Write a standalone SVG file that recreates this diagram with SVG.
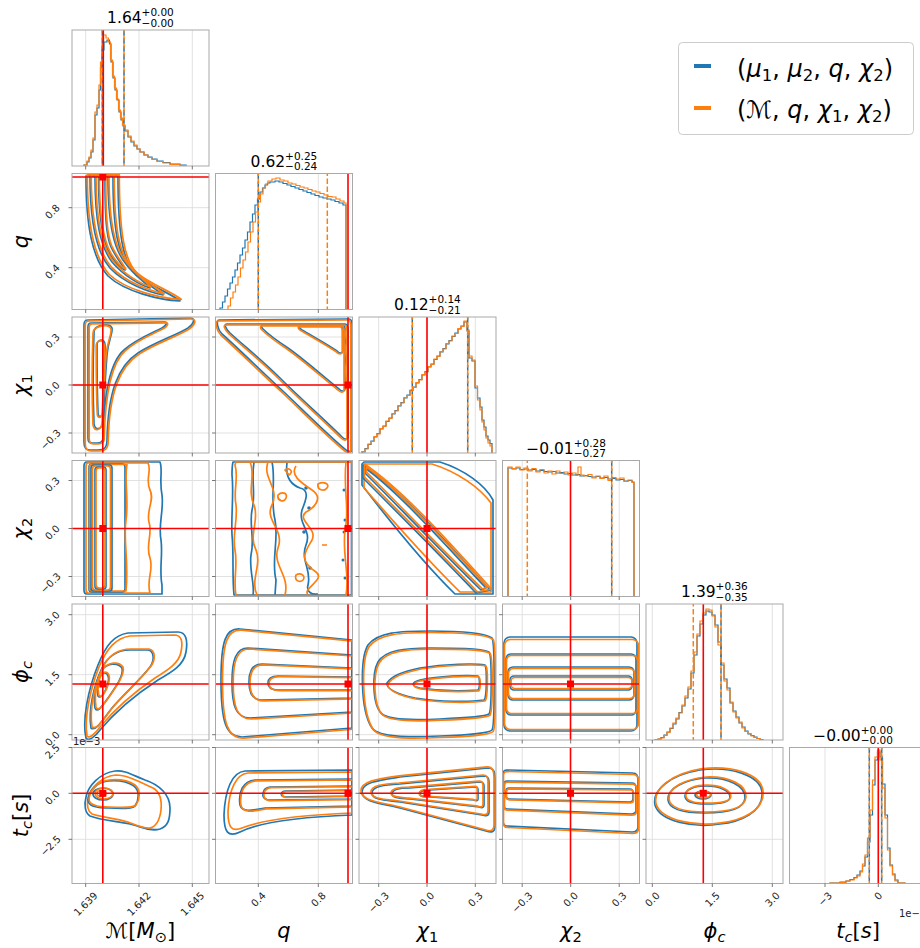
<svg xmlns="http://www.w3.org/2000/svg" xmlns:xlink="http://www.w3.org/1999/xlink" width="920" height="948" viewBox="0 0 920 948">
<style>
.fr{fill:none;stroke:#a9a9a9;stroke-width:1}
.gr{fill:none;stroke:#dedede;stroke-width:0.9}
.tk{fill:none;stroke:#555;stroke-width:0.8}
.b{fill:none;stroke:#1f77b4;stroke-width:1.7;stroke-linejoin:round}
.o{fill:none;stroke:#ff7f0e;stroke-width:1.7;stroke-linejoin:round}
.hb{fill:none;stroke:#1f77b4;stroke-width:1.2}
.ho{fill:none;stroke:#ff7f0e;stroke-width:1.2}
.db{fill:none;stroke:#1f77b4;stroke-width:1.5;stroke-dasharray:5.5 2.5}
.do{fill:none;stroke:#ff7f0e;stroke-width:1.5;stroke-dasharray:5.5 2.5;stroke-dashoffset:3}
.tr{fill:none;stroke:#ff0000;stroke-width:1.6}
.mk{fill:#ff0000}
.tl{font-family:'DejaVu Sans',sans-serif;font-size:10px;fill:#222;text-anchor:middle;dominant-baseline:central}
.ttl{font-family:'DejaVu Sans',sans-serif;font-size:15.5px;fill:#000}
.lab{font-family:'DejaVu Sans',sans-serif;font-size:21px;fill:#000;text-anchor:middle}
.lg{font-family:'DejaVu Sans',sans-serif;font-size:24px;fill:#000}
</style>
<defs>
<path id="a1" d="M86,176 C86,225 92,258 108,276 C125,292 160,300 180,301 C172,294 150,286 136,275 C123,262 118,235 118,176 Z"/>
<path id="a2" d="M90,176 C90,222 96,252 110,268 C124,283 148,292 163,295 C156,289 140,280 130,268 C118,254 113,230 113,176 Z"/>
<path id="a3" d="M95,176 C95,220 100,246 112,262 C124,276 140,285 150,288 C145,282 133,274 126,264 C114,250 108,225 108,176 Z"/>
<path id="a4" d="M98.5,176 C98.5,215 102,240 110,254 C115,262 120,268 125,270 C122,264 115,256 111,247 C106,235 105,215 105,176 Z"/>
<path id="b1" d="M88,320 L190,318 C196,318 194,324 188,328 C175,336 155,342 138,353 C118,366 108,392 107,440 C107,448 104,450 98,450 L90,450 C85,450 84,447 84,442 L84,325 C84,321 85,320 88,320 Z"/>
<path id="b2" d="M91,323 L165,322 C168,322 166,326 162,328 C150,334 135,340 124,350 C110,362 104,392 103,438 C103,442 100,443 97,443 L92,443 C89,443 88,441 88,438 L88,327 C88,324 89,323 91,323 Z"/>
<path id="b3" d="M94,332 C94,325 110,322 112,328 C113,334 108,340 107,355 C105,380 104,405 103,422 C102,430 95,431 94,424 C93,400 93,360 94,332 Z"/>
<path id="b4" d="M97,345 C97,339 105,338 105,345 C105,370 104,395 103,412 C102,418 98,418 98,412 C97,390 97,365 97,345 Z"/>
<path id="d1" d="M86,738 C82,720 88,690 98,665 C106,645 114,635 128,633 L178,632 C186,632 188,640 186,652 C184,665 172,672 158,680 C135,695 115,712 100,730 C95,737 88,742 86,738 Z"/>
<path id="d2" d="M91,728 C88,710 94,685 102,668 C108,656 118,650 130,650 L148,650 C154,651 155,660 150,667 C140,680 125,693 112,708 C104,718 96,732 91,728 Z"/>
<path id="d3" d="M95,708 C93,695 96,680 102,670 C107,663 118,662 122,668 C124,676 115,688 108,698 C103,705 97,714 95,708 Z"/>
<path id="d4" d="M98,696 C96,688 98,678 102,674 C106,671 110,675 108,683 C106,691 101,700 98,696 Z"/>
<path id="e2" d="M88,800 C89,790 98,782 108,781 C118,780 128,782 134,786 C140,791 139,800 135,806 C130,810 118,808 108,808 C98,808 88,807 88,800 Z"/>
<path id="f1" d="M219,320 L349,319 C352,319 352,322 352,325 L352,450 C352,452 349,452 346,450 C330,437 305,412 285,393 C262,372 240,350 222,334 C217,329 216,320 219,320 Z"/>
<path id="f2" d="M227,324 L345,324 C348,324 348,327 348,330 L348,436 C348,440 345,440 342,437 C325,420 300,398 280,378 C262,360 243,345 230,333 C225,328 224,324 227,324 Z"/>
<path id="f3" d="M263,325 L343,325 C345,325 345,327 345,330 L345,388 C345,392 342,392 339,389 C325,378 305,360 288,348 C276,340 267,333 263,329 C261,327 261,325 263,325 Z"/>
<path id="f4" d="M300,326 L341,326 C343,326 343,328 343,330 L343,350 C343,354 340,354 337,351 C325,343 312,336 302,330 C299,328 298,326 300,326 Z"/>
<path id="h1" d="M352,640 L240,629 C226,628 221,640 221,680 C221,722 226,737 242,737 L352,728 Z"/>
<path id="h2" d="M352,655 L248,648 C236,648 232,660 232,682 C232,706 236,718 250,718 L352,712 Z"/>
<path id="h3" d="M352,668 L262,664 C252,664 249,672 249,682 C249,693 252,700 262,700 L352,698 Z"/>
<path id="h4" d="M352,677 L278,676 C270,676 268,680 268,683 C268,687 270,690 278,690 L352,690 Z"/>
<path id="i2" d="M352,779 L255,780 C243,781 238,792 240,805 C242,812 250,811 265,808 L352,806 Z"/>
<path id="i3" d="M352,786 L270,787 C262,788 260,798 268,800 L352,799 Z"/>
<path id="i4" d="M352,790 L285,791 C280,792 280,796 285,797 L352,796 Z"/>
<path id="j2" d="M363,465 C400,490 445,540 490,590 L476,593 C440,555 395,510 363,478 Z"/>
<path id="j3" d="M365,468 C400,493 445,545 486,588 L481,590 C440,550 398,506 365,473 Z"/>
<path id="k1" d="M492,638 C485,633 460,631 430,631 C400,631 378,632 368,645 C360,658 360,710 372,728 C380,738 410,737 440,736 C465,735 488,734 492,730 C495,726 495,642 492,638 Z"/>
<path id="k2" d="M489,652 C480,648 455,648 430,648 C405,648 385,650 378,662 C372,673 372,705 382,714 C390,721 420,720 440,719 C465,718 485,717 489,714 C492,710 492,655 489,652 Z"/>
<path id="k3" d="M485,665 C475,663 445,664 420,668 C400,672 390,678 387,683 C386,688 395,694 415,698 C440,702 470,702 484,700 C487,698 487,668 485,665 Z"/>
<path id="k4" d="M478,676 C465,675 440,676 420,680 C412,682 410,686 420,688 C440,691 465,691 478,690 C480,688 480,678 478,676 Z"/>
<path id="l1" d="M362,792 C362,782 380,780 400,777 L488,768 C494,768 495,772 495,780 L495,826 C495,832 492,833 486,831 L400,808 C380,803 362,802 362,792 Z"/>
<path id="l2" d="M372,793 C372,786 385,785 400,784 L484,776 C488,776 489,778 489,782 L489,812 C489,816 486,816 482,815 L400,802 C385,800 372,800 372,793 Z"/>
<path id="l3" d="M392,794 C392,789 400,788 410,788 L480,782 C483,782 484,784 484,786 L484,805 C484,808 482,808 479,807 L410,799 C400,798 392,798 392,794 Z"/>
<path id="l4" d="M420,794 C420,791 425,790 430,790 L476,787 C478,787 478,789 478,790 L478,799 C478,801 476,801 474,800 L430,797 C425,797 420,797 420,794 Z"/>
<path id="m1" d="M507,770 L633,773 C637,773 638,776 638,780 L638,827 C638,831 636,832 632,832 L507,826 C504,826 503,824 503,821 L503,774 C503,771 504,770 507,770 Z"/>
<path id="m2" d="M507,781 L632,783 C635,783 636,785 636,788 L636,810 C636,813 634,814 631,814 L507,809 C505,809 504,808 504,806 L504,784 C504,782 505,781 507,781 Z"/>
<path id="m3" d="M509,788 L630,789 C632,789 633,791 633,793 L633,799 C633,801 632,802 630,802 L509,799 C507,799 506,798 506,796 L506,791 C506,789 507,788 509,788 Z"/>
<path id="n1" d="M655,805 C652,790 670,775 700,770 C730,766 760,775 762,792 C764,812 740,822 720,824 C695,828 660,822 655,805 Z"/>
<path id="n2" d="M668,800 C667,788 685,780 705,778 C728,777 746,786 745,798 C744,810 725,813 705,813 C685,813 669,810 668,800 Z"/>
<path id="n3" d="M685,796 C685,789 695,786 706,786 C720,786 730,791 730,797 C730,803 718,804 706,804 C694,804 685,802 685,796 Z"/>
</defs>
<rect width="920" height="948" fill="#fff"/>

<!-- row 0 -->
<g id="p00">
<svg x="72" y="30" width="137" height="136" viewBox="72 30 137 136">
<path class="gr" d="M85.7,0V948M139,0V948M192.3,0V948"/>
<path class="hb" d="M84,166 V165 H87 V162 H89 V158 H91 V152 H93 V140 H95 V115 H97 V108 H99 V90 H100.5 V68 H102 V50 H104 V42 H107 V40 H109.5 V44 H111 V62 H113 V78 H115 V90 H117 V100 H119 V112 H121 V120 H123 V126 H125 V131 H128 V137 H131 V142 H134 V146 H137 V149 H140 V152 H144 V155 H148 V157 H152 V159 H157 V161 H163 V162.5 H170 V164 H180 V165 H186 V166"/>
<path class="ho" d="M84,166 V165 H87 V161 H89 V157 H91 V150 H93 V138 H95 V112 H97 V105 H99 V85 H100.5 V62 H102 V45 H103.5 V35 H106 V38 H108.5 V42 H110.5 V60 H112.5 V76 H114.5 V88 H116.5 V99 H118.5 V110 H120.5 V118 H122.5 V125 H125 V130 H128 V136 H131 V141 H134 V145 H137 V149 H140 V152 H144 V155 H148 V157.5 H152 V159.5 H157 V161.5 H163 V163 H170 V164.5 H180 V165.5 H186 V166"/>
<path class="db" d="M102.3,30V166M124,30V166"/>
<path class="do" d="M102.3,30V166M124,30V166"/>
<path class="tr" d="M103.3,0V948"/>
</svg>
<rect class="fr" x="72" y="30" width="137" height="136"/>
<text class="ttl" x="107.1" y="23.3">1.64<tspan font-size="10.5" dy="-7">+0.00</tspan><tspan font-size="10.5" dx="-32.2" dy="10.3">−0.00</tspan></text>
</g>

<!-- row 1 -->
<g id="p10">
<svg x="72" y="173.5" width="137" height="136" viewBox="72 173.5 137 136">
<path class="gr" d="M85.7,0V948M139,0V948M192.3,0V948M0,207.7H920M0,267.7H920"/>
<use href="#a1" class="b"/><use href="#a2" class="b"/><use href="#a3" class="b"/><use href="#a4" class="b"/>
<use href="#a1" class="o" transform="translate(1.3,-1.5)"/><use href="#a2" class="o" transform="translate(1.2,-1.2)"/><use href="#a3" class="o" transform="translate(1,-1)"/><use href="#a4" class="o" transform="translate(0.8,-0.8)"/>
<path class="tr" d="M102.8,0V948M0,177H920"/>
<rect class="mk" x="99.3" y="173.5" width="7" height="7"/>
</svg>
<rect class="fr" x="72" y="173.5" width="137" height="136"/>
</g>
<g id="p11">
<svg x="215.5" y="173.5" width="137" height="136" viewBox="215.5 173.5 137 136">
<path class="gr" d="M258.3,0V948M318.3,0V948"/>
<path class="hb" d="M220,310 V308 H222.5 V302 H225 V296 H227.5 V289 H230 V283 H232.5 V277 H235 V270 H237.5 V263 H240 V255 H242.5 V248 H245 V240 H247.5 V232 H250 V222 H252.5 V214 H255 V205 H257.5 V199 H260 V192 H262.5 V188 H265 V185 H267.5 V183 H270 V182 H275 V181 H279 V182 H283 V183.5 H287 V185 H291 V186.5 H295 V188 H299 V189.5 H303 V191 H307 V192.5 H311 V194 H315 V195.5 H319 V197 H323 V198 H327 V199 H331 V200 H335 V201.5 H339 V203 H343 V205 H346 V310"/>
<path class="ho" d="M228,310 V306 H230.5 V298 H233 V292 H235.5 V285 H238 V277 H240.5 V268 H243 V260 H245.5 V252 H248 V242 H250.5 V232 H253 V222 H255.5 V212 H258 V202 H260.5 V194 H263 V188 H265.5 V184 H268 V181 H272 V179 H276 V178 H280 V180 H284 V181 H288 V183 H292 V184 H296 V185.5 H300 V187 H304 V188 H308 V189.5 H312 V191 H316 V192 H320 V193.5 H324 V195 H328 V196.5 H332 V197 H336 V199 H340 V201 H344 V203 H346 V310"/>
<path class="db" d="M258.3,173.5V310"/>
<path class="do" d="M258.3,173.5V310M327.3,173.5V310"/>
<path class="tr" d="M348,0V948"/>
</svg>
<rect class="fr" x="215.5" y="173.5" width="137" height="136"/>
<text class="ttl" x="250.6" y="166.8">0.62<tspan font-size="10.5" dy="-7">+0.25</tspan><tspan font-size="10.5" dx="-32.2" dy="10.3">−0.24</tspan></text>
</g>

<!-- row 2 -->
<g id="p20">
<svg x="72" y="317" width="137" height="136" viewBox="72 317 137 136">
<path class="gr" d="M85.7,0V948M139,0V948M192.3,0V948M0,337H920M0,385H920M0,433H920"/>
<use href="#b1" class="b"/><use href="#b2" class="b"/><use href="#b3" class="b"/><use href="#b4" class="b"/>
<use href="#b1" class="o" transform="translate(1.2,1)"/><use href="#b2" class="o" transform="translate(1.2,0.8)"/><use href="#b3" class="o" transform="translate(-1,1)"/><use href="#b4" class="o" transform="translate(-0.8,0.8)"/>
<path class="tr" d="M102.8,0V948M0,385H920"/>
<rect class="mk" x="99.3" y="381.5" width="7" height="7"/>
</svg>
<rect class="fr" x="72" y="317" width="137" height="136"/>
</g>
<g id="p21">
<svg x="215.5" y="317" width="137" height="136" viewBox="215.5 317 137 136">
<path class="gr" d="M258.3,0V948M318.3,0V948M0,337H920M0,385H920M0,433H920"/>
<use href="#f1" class="b"/><use href="#f2" class="b"/><use href="#f3" class="b"/><use href="#f4" class="b"/>
<use href="#f1" class="o" transform="translate(-1.2,1)"/><use href="#f2" class="o" transform="translate(-1,1)"/><use href="#f3" class="o" transform="translate(-1,1)"/><use href="#f4" class="o" transform="translate(-0.8,0.8)"/>
<path class="o" d="M346,330 c-3,5 3,10 0,15 c-3,6 3,12 0,20 c-3,8 3,14 -1,22"/>
<path class="tr" d="M348,0V948M0,385H920"/>
<rect class="mk" x="344.5" y="381.5" width="7" height="7"/>
</svg>
<rect class="fr" x="215.5" y="317" width="137" height="136"/>
</g>
<g id="p22">
<svg x="359" y="317" width="137" height="136" viewBox="359 317 137 136">
<path class="gr" d="M378.7,0V948M427,0V948M475.3,0V948"/>
<path class="hb" d="M362,454 V452 H365 V448.5 H368 V444.5 H371 V441 H374 V437 H377 V433.5 H380 V429 H383 V426 H386 V421.5 H389 V418 H392 V414 H395 V410.5 H398 V406 H401 V402.5 H404 V398 H407 V395 H410 V390.5 H413 V387 H416 V383 H419 V379.5 H422 V375 H425 V371.5 H428 V367 H431 V364 H434 V359.5 H437 V356 H440 V352 H443 V348.5 H446 V344 H449 V340.5 H452 V336.5 H455 V333 H458 V329 H461 V326 H464 V322 H467 V331 H469 V358 H472 V361 H475 V388 H477.5 V398 H480 V407 H482 V420 H484 V427 H486 V436 H488 V440 H490 V443.5 H492 V454"/>
<path class="ho" d="M362,454 V451.5 H365 V449 H368 V444 H371 V441.5 H374 V436.5 H377 V434 H380 V428.5 H383 V426.5 H386 V421 H389 V418.5 H392 V413.5 H395 V411 H398 V405.5 H401 V403 H404 V397.5 H407 V395.5 H410 V390 H413 V387.5 H416 V382.5 H419 V380 H422 V374.5 H425 V372 H428 V366.5 H431 V364.5 H434 V359 H437 V356.5 H440 V351.5 H443 V349 H446 V343.5 H449 V341 H452 V336 H455 V333.5 H458 V328.5 H461 V326.5 H464 V321 H467 V330 H469 V356 H472 V360 H475 V386 H477.5 V400 H480 V410 H482 V422 H484 V430 H486 V438 H488 V443 H490 V446 H492 V454"/>
<path class="db" d="M412.3,317V454M467.7,317V454"/>
<path class="do" d="M412.3,317V454M467.7,317V454"/>
<path class="tr" d="M427,0V948"/>
</svg>
<rect class="fr" x="359" y="317" width="137" height="136"/>
<text class="ttl" x="394.1" y="310.3">0.12<tspan font-size="10.5" dy="-7">+0.14</tspan><tspan font-size="10.5" dx="-32.2" dy="10.3">−0.21</tspan></text>
</g>

<!-- row 3 -->
<g id="p30">
<svg x="72" y="460.5" width="137" height="136" viewBox="72 460.5 137 136">
<path class="gr" d="M85.7,0V948M139,0V948M192.3,0V948M0,480.5H920M0,528.5H920M0,576.5H920"/>
<path class="b" d="M87,462 L160,462 C163,470 159,480 162,495 C164,510 158,525 161,540 C163,555 159,570 162,585 L162,594 L87,594 C85,594 84,592 84,590 L84,466 C84,463 85,462 87,462 Z"/>
<path class="o" d="M88,463 L148,463 C152,470 145,480 150,490 C155,500 146,510 149,522 C153,535 145,545 150,558 C154,570 146,580 150,593 L88,593 C86,593 86,591 86,589 L86,467 C86,464 87,463 88,463 Z"/>
<rect class="b" x="89" y="464" width="36" height="128" rx="3"/>
<path class="o" d="M92,464.5 L127,464.5 C124,480 129,500 126,520 C123,540 129,560 126,591 L92,591 C90,591 89.5,590 89.5,588 L89.5,467 C89.5,465 90,464.5 92,464.5 Z"/>
<rect class="b" x="91" y="465" width="21" height="126" rx="3"/>
<rect class="o" x="92.5" y="466" width="18" height="124" rx="3"/>
<rect class="b" x="95" y="467" width="11" height="122" rx="3"/>
<rect class="o" x="96" y="468" width="9" height="120" rx="3"/>
<path class="tr" d="M102.8,0V948M0,528.5H920"/>
<rect class="mk" x="99.3" y="525" width="7" height="7"/>
</svg>
<rect class="fr" x="72" y="460.5" width="137" height="136"/>
</g>
<g id="p31">
<svg x="215.5" y="460.5" width="137" height="136" viewBox="215.5 460.5 137 136">
<path class="gr" d="M258.3,0V948M318.3,0V948M0,480.5H920M0,528.5H920M0,576.5H920"/>
<path class="b" d="M233,462 H351.5 V595 H234 C232,575 234,555 232,535 C231,515 234,495 232,475 C232,466 233,462 233,462 Z"/>
<path class="b" d="M254,462 C251,480 256,495 252,510 C249,525 255,540 251,555 C249,570 255,585 253,595"/>
<path class="b" d="M272,462 C276,480 270,500 275,520 C279,540 271,560 276,580 L275,595"/>
<path class="b" d="M287,463 C285,478 292,485 300,488 C310,490 306,500 302,510 C298,525 312,530 306,545 C300,560 312,570 308,585 C306,592 312,595 318,594"/>
<g fill="#1f77b4"><circle cx="306" cy="488" r="1.8"/><circle cx="309" cy="508" r="1.8"/><circle cx="304" cy="532" r="1.8"/><circle cx="310" cy="568" r="1.8"/><circle cx="344" cy="490" r="1.5"/><circle cx="345" cy="520" r="1.5"/><circle cx="344" cy="532" r="1.5"/><circle cx="343" cy="560" r="1.5"/><circle cx="345" cy="578" r="1.5"/></g>
<path class="o" d="M236,462 H352 V595.5 H236 C233,580 238,565 235,550 C232,535 238,520 236,505 C233,490 239,478 235,465 Z"/>
<path class="o" d="M250,462 C256,475 247,490 254,505 C260,520 248,535 256,550 C262,565 250,580 257,595"/>
<path class="o" d="M268,462 C262,478 280,488 272,505 C264,520 285,530 278,548 C272,565 290,575 285,595"/>
<path class="o" d="M296,466 C290,475 300,482 312,490 C324,498 314,508 306,512 C296,520 318,528 312,540 C305,552 298,560 316,572 C326,580 302,588 308,595"/>
<path class="o" d="M278,495 c4,-4 10,-2 8,3 c-2,5 -9,3 -8,-3 Z M318,484 c6,-3 12,0 9,4 c-3,4 -10,2 -9,-4 Z M296,575 c5,-3 10,1 7,5 c-3,3 -9,1 -7,-5 Z M322,545 h5 M285,470 c5,-3 9,2 4,5 Z"/>
<path class="o" d="M346,462 C343,490 350,510 345,530 C342,555 350,575 346,595"/>
<path class="tr" d="M348,0V948M0,528.5H920"/>
<rect class="mk" x="344.5" y="525" width="7" height="7"/>
</svg>
<rect class="fr" x="215.5" y="460.5" width="137" height="136"/>
</g>
<g id="p32">
<svg x="359" y="460.5" width="137" height="136" viewBox="359 460.5 137 136">
<path class="gr" d="M378.7,0V948M427,0V948M475.3,0V948M0,480.5H920M0,528.5H920M0,576.5H920"/>
<path class="b" d="M364,462 L440,462 C465,470 485,485 493,500 L493,594 L455,594 C420,560 385,515 362,485 L362,464 Z"/>
<path class="o" d="M364,464 L432,464 C458,472 480,488 491,503 L491,592 L460,592 C425,558 388,515 364,488 Z"/>
<use href="#j2" class="b"/><use href="#j3" class="b"/>
<use href="#j2" class="o" transform="translate(1.5,-1)"/><use href="#j3" class="o" transform="translate(1.5,-1)"/>
<path class="tr" d="M427,0V948M0,528.5H920"/>
<rect class="mk" x="423.5" y="525" width="7" height="7"/>
</svg>
<rect class="fr" x="359" y="460.5" width="137" height="136"/>
</g>
<g id="p33">
<svg x="502.5" y="460.5" width="137" height="136" viewBox="502.5 460.5 137 136">
<path class="gr" d="M522.2,0V948M570.7,0V948M619.2,0V948"/>
<path class="hb" d="M508,597 V468 H512 V469 H516 V468 H520 V469.5 H524 V469 H528 V470 H532 V469.5 H536 V471 H540 V470.5 H544 V471.5 H548 V472 H552 V471.5 H556 V473 H560 V472.5 H564 V474 H568 V473.5 H572 V475 H576 V474.5 H580 V476 H584 V475.5 H588 V476.5 H592 V477 H596 V476.5 H600 V478 H604 V477.5 H608 V479 H612 V478.5 H616 V480 H620 V479.5 H624 V481 H628 V480.5 H632 V482 H634 V597"/>
<path class="ho" d="M508,597 V467 H512 V468.5 H516 V467 H520 V470 H524 V468 H528 V471 H532 V468.5 H536 V472 H540 V469.5 H544 V473 H548 V471 H552 V474 H556 V471 H560 V473.5 H564 V472 H568 V475 H572 V473 H576 V475.5 H578 V467 H581 V475 H584 V476 H588 V474.5 H592 V478 H596 V476 H600 V478.5 H604 V476 H608 V480.5 H612 V477.5 H616 V479 H620 V478 H624 V481.5 H628 V480 H632 V482.5 H634 V597"/>
<path class="do" d="M527.3,460.5V597"/>
<path class="db" d="M611.7,460.5V597"/>
<path class="do" d="M611.7,460.5V597"/>
<path class="tr" d="M570.5,0V948"/>
</svg>
<rect class="fr" x="502.5" y="460.5" width="137" height="136"/>
<text class="ttl" x="526.2" y="453.8">−0.01<tspan font-size="10.5" dy="-7">+0.28</tspan><tspan font-size="10.5" dx="-32.2" dy="10.3">−0.27</tspan></text>
</g>

<!-- row 4 -->
<g id="p40">
<svg x="72" y="604" width="137" height="136" viewBox="72 604 137 136">
<path class="gr" d="M85.7,0V948M139,0V948M192.3,0V948M0,614.7H920M0,674.7H920M0,734.7H920"/>
<use href="#d1" class="b"/><use href="#d2" class="b"/><use href="#d3" class="b"/><use href="#d4" class="b"/>
<path class="o" d="M87,736 C84,718 90,690 99,667 C107,648 116,638 130,636 L174,635 C182,635 183,642 181,652 C179,663 168,670 155,678 C133,693 114,710 100,727 C95,734 89,739 87,736 Z"/>
<use href="#d2" class="o" transform="translate(1,-1)"/><use href="#d3" class="o" transform="translate(1,-1)"/><use href="#d4" class="o" transform="translate(0.8,-0.8)"/>
<path class="tr" d="M102.8,0V948M0,684H920"/>
<rect class="mk" x="99.3" y="680.5" width="7" height="7"/>
</svg>
<rect class="fr" x="72" y="604" width="137" height="136"/>
</g>
<g id="p41">
<svg x="215.5" y="604" width="137" height="136" viewBox="215.5 604 137 136">
<path class="gr" d="M258.3,0V948M318.3,0V948M0,614.7H920M0,674.7H920M0,734.7H920"/>
<use href="#h1" class="b"/><use href="#h2" class="b"/><use href="#h3" class="b"/><use href="#h4" class="b"/>
<use href="#h1" class="o" transform="translate(1.5,1.2)"/><use href="#h2" class="o" transform="translate(1.2,1)"/><use href="#h3" class="o" transform="translate(1,0.8)"/><use href="#h4" class="o" transform="translate(1,0.6)"/>
<path class="tr" d="M348,0V948M0,684H920"/>
<rect class="mk" x="344.5" y="680.5" width="7" height="7"/>
</svg>
<rect class="fr" x="215.5" y="604" width="137" height="136"/>
</g>
<g id="p42">
<svg x="359" y="604" width="137" height="136" viewBox="359 604 137 136">
<path class="gr" d="M378.7,0V948M427,0V948M475.3,0V948M0,614.7H920M0,674.7H920M0,734.7H920"/>
<use href="#k1" class="b"/><use href="#k2" class="b"/><use href="#k3" class="b"/><use href="#k4" class="b"/>
<use href="#k1" class="o" transform="translate(1.2,1.5)"/><use href="#k2" class="o" transform="translate(1,1.2)"/><use href="#k3" class="o" transform="translate(1,1)"/><use href="#k4" class="o" transform="translate(0.8,0.8)"/>
<path class="tr" d="M427,0V948M0,684H920"/>
<rect class="mk" x="423.5" y="680.5" width="7" height="7"/>
</svg>
<rect class="fr" x="359" y="604" width="137" height="136"/>
</g>
<g id="p43">
<svg x="502.5" y="604" width="137" height="136" viewBox="502.5 604 137 136">
<path class="gr" d="M522.2,0V948M570.7,0V948M619.2,0V948M0,614.7H920M0,674.7H920M0,734.7H920"/>
<rect class="b" x="504" y="637" width="133" height="94" rx="6"/>
<rect class="b" x="506" y="654" width="130" height="61" rx="5"/>
<rect class="b" x="508" y="667" width="126" height="33" rx="5"/>
<rect class="b" x="510" y="676" width="122" height="14" rx="4"/>
<rect class="o" x="504.5" y="639.5" width="134" height="90" rx="6"/>
<rect class="o" x="506.5" y="655.5" width="131" height="58" rx="5"/>
<rect class="o" x="508.5" y="668.5" width="126" height="30" rx="5"/>
<rect class="o" x="511" y="677.5" width="121" height="11" rx="4"/>
<path class="tr" d="M570.5,0V948M0,684H920"/>
<rect class="mk" x="567" y="680.5" width="7" height="7"/>
</svg>
<rect class="fr" x="502.5" y="604" width="137" height="136"/>
</g>
<g id="p44">
<svg x="646" y="604" width="137" height="136" viewBox="646 604 137 136">
<path class="gr" d="M652.3,0V948M712.3,0V948M772.3,0V948"/>
<path class="hb" d="M652,741 V740.5 H655 V740 H658 V739 H661 V737.5 H664 V735 H667 V732 H670 V728.5 H673 V724 H676 V719 H679 V712.5 H682 V706 H685 V698 H688 V689 H691 V673 H694 V655 H697 V636 H700 V624 H703 V615 H706 V611 H709 V612 H712 V615 H715 V625 H718 V642 H721 V665 H724 V679 H727 V688 H730 V703 H733 V711 H736 V717 H739 V723 H742 V727 H745 V731 H748 V734 H751 V735.5 H754 V737 H757 V738.5 H760 V739.5 H763 V740.5 H766 V741"/>
<path class="ho" d="M652,741 V740.5 H655 V739.5 H658 V739 H661 V738 H664 V735.5 H667 V732.5 H670 V728 H673 V723 H676 V718 H679 V713 H682 V705 H685 V696 H688 V687 H691 V671 H694 V652 H697 V634 H700 V621 H703 V613 H706 V609 H709 V610 H712 V616 H715 V627 H718 V645 H721 V663 H724 V681 H727 V690 H730 V702 H733 V712 H736 V718 H739 V722 H742 V728 H745 V731.5 H748 V733.5 H751 V736 H754 V737.5 H757 V738.5 H760 V740 H763 V740.5 H766 V741"/>
<path class="do" d="M693.3,604V741"/>
<path class="db" d="M721,604V741"/>
<path class="do" d="M721,604V741"/>
<path class="tr" d="M703.3,0V948"/>
</svg>
<rect class="fr" x="646" y="604" width="137" height="136"/>
<text class="ttl" x="681.1" y="597.3">1.39<tspan font-size="10.5" dy="-7">+0.36</tspan><tspan font-size="10.5" dx="-32.2" dy="10.3">−0.35</tspan></text>
</g>

<!-- row 5 -->
<g id="p50">
<svg x="72" y="747.5" width="137" height="136" viewBox="72 747.5 137 136">
<path class="gr" d="M85.7,0V948M139,0V948M192.3,0V948M0,747.5H920M0,793.3H920M0,839.3H920"/>
<path class="b" d="M86,797 C88,786 100,773 115,771 C125,770 132,775 145,780 C160,785 170,795 170,808 C170,820 168,826 160,829 C150,832 140,826 130,824 C115,821 100,820 90,816 C85,813 84,805 86,797 Z"/>
<path class="o" d="M88,798 C90,788 102,776 116,775 C127,775 140,782 153,788 C160,792 162,800 161,810 C160,818 158,826 150,828 C144,829 138,826 128,822 C115,818 100,817 92,814 C87,811 87,804 88,798 Z"/>
<use href="#e2" class="b"/><use href="#e2" class="o" transform="translate(1,-1)"/>
<ellipse class="b" cx="103" cy="794" rx="10" ry="6"/><ellipse class="o" cx="104" cy="793.5" rx="9" ry="5.5"/>
<ellipse class="o" cx="101.5" cy="793.5" rx="4.5" ry="3"/>
<path class="tr" d="M102.8,0V948M0,793.3H920"/>
<rect class="mk" x="99.3" y="789.8" width="7" height="7"/>
</svg>
<rect class="fr" x="72" y="747.5" width="137" height="136"/>
</g>
<g id="p51">
<svg x="215.5" y="747.5" width="137" height="136" viewBox="215.5 747.5 137 136">
<path class="gr" d="M258.3,0V948M318.3,0V948M0,747.5H920M0,793.3H920M0,839.3H920"/>
<path class="b" d="M352,770 L245,771 C232,772 225,790 224,815 C224,832 228,838 240,832 C260,822 300,817 352,815 Z"/>
<path class="o" d="M352,772 L248,773 C236,774 229,790 228,812 C228,828 232,832 242,828 C262,820 300,815 352,813 Z"/>
<use href="#i2" class="b"/><use href="#i3" class="b"/><use href="#i4" class="b"/>
<use href="#i2" class="o" transform="translate(1,0.8)"/><use href="#i3" class="o" transform="translate(1,0.6)"/><use href="#i4" class="o" transform="translate(1,0.5)"/>
<path class="tr" d="M348,0V948M0,793.3H920"/>
<rect class="mk" x="344.5" y="789.8" width="7" height="7"/>
</svg>
<rect class="fr" x="215.5" y="747.5" width="137" height="136"/>
</g>
<g id="p52">
<svg x="359" y="747.5" width="137" height="136" viewBox="359 747.5 137 136">
<path class="gr" d="M378.7,0V948M427,0V948M475.3,0V948M0,747.5H920M0,793.3H920M0,839.3H920"/>
<use href="#l1" class="b"/><use href="#l2" class="b"/><use href="#l3" class="b"/><use href="#l4" class="b"/>
<use href="#l1" class="o" transform="translate(-1,-1.2)"/><use href="#l2" class="o" transform="translate(-1,-1)"/><use href="#l3" class="o" transform="translate(-1,-0.8)"/><use href="#l4" class="o" transform="translate(-0.8,-0.6)"/>
<path class="tr" d="M427,0V948M0,793.3H920"/>
<rect class="mk" x="423.5" y="789.8" width="7" height="7"/>
</svg>
<rect class="fr" x="359" y="747.5" width="137" height="136"/>
</g>
<g id="p53">
<svg x="502.5" y="747.5" width="137" height="136" viewBox="502.5 747.5 137 136">
<path class="gr" d="M522.2,0V948M570.7,0V948M619.2,0V948M0,747.5H920M0,793.3H920M0,839.3H920"/>
<use href="#m1" class="b"/><use href="#m2" class="b"/><use href="#m3" class="b"/>
<use href="#m1" class="o" transform="translate(0.5,1.5)"/><use href="#m2" class="o" transform="translate(0.5,1.2)"/><use href="#m3" class="o" transform="translate(0.5,0.8)"/>
<path class="tr" d="M570.5,0V948M0,793.3H920"/>
<rect class="mk" x="567" y="789.8" width="7" height="7"/>
</svg>
<rect class="fr" x="502.5" y="747.5" width="137" height="136"/>
</g>
<g id="p54">
<svg x="646" y="747.5" width="137" height="136" viewBox="646 747.5 137 136">
<path class="gr" d="M652.3,0V948M712.3,0V948M772.3,0V948M0,747.5H920M0,793.3H920M0,839.3H920"/>
<use href="#n1" class="b"/><use href="#n2" class="b"/><use href="#n3" class="b"/>
<use href="#n1" class="o" transform="translate(1,-1.2)"/><use href="#n2" class="o" transform="translate(1,-1)"/><use href="#n3" class="o" transform="translate(0.8,-0.8)"/>
<ellipse class="b" cx="703" cy="795" rx="8" ry="4"/><ellipse class="o" cx="703.5" cy="794.5" rx="7" ry="3.5"/>
<path class="tr" d="M703.3,0V948M0,793.3H920"/>
<rect class="mk" x="699.8" y="789.8" width="7" height="7"/>
</svg>
<rect class="fr" x="646" y="747.5" width="137" height="136"/>
</g>
<g id="p55">
<svg x="789.5" y="747.5" width="137" height="136" viewBox="789.5 747.5 137 136">
<path class="gr" d="M825,0V948M878.3,0V948"/>
<path class="hb" d="M820,884 V883.5 H830 V883 H840 V882 H846 V881 H850 V879.5 H854 V877.5 H857 V875 H860 V871 H862.5 V866 H865 V857 H867.5 V842 H870 V815 H872.5 V785 H875 V760 H877.5 V752 H880 V757 H882.5 V784 H885 V815 H887.5 V848 H890 V865 H892.5 V874 H895 V880 H898 V883 H905 V884"/>
<path class="ho" d="M820,884 V883.5 H830 V883 H840 V882.5 H846 V881 H850 V880 H854 V878 H857 V876 H860 V872 H862.5 V864 H865 V855 H867.5 V838 H870 V810 H872.5 V780 H875 V757 H877.5 V750 H880 V760 H882.5 V788 H885 V818 H887.5 V850 H890 V866 H892.5 V875 H895 V881 H898 V883 H905 V884"/>
<path class="db" d="M869.3,747.5V884M881.7,747.5V884"/>
<path class="do" d="M869.3,747.5V884M881.7,747.5V884"/>
<path class="tr" d="M878.3,0V948"/>
</svg>
<rect class="fr" x="789.5" y="747.5" width="137" height="136"/>
<text class="ttl" x="813.2" y="740.8">−0.00<tspan font-size="10.5" dy="-7">+0.00</tspan><tspan font-size="10.5" dx="-32.2" dy="10.3">−0.00</tspan></text>
</g>

<!-- tick marks -->
<path class="tk" d="M85.7,166v3.5M139,166v3.5M192.3,166v3.5M85.7,309.5v3.5M139,309.5v3.5M192.3,309.5v3.5M85.7,453v3.5M139,453v3.5M192.3,453v3.5M85.7,596.5v3.5M139,596.5v3.5M192.3,596.5v3.5M85.7,740v3.5M139,740v3.5M192.3,740v3.5M85.7,883.5v3.5M139,883.5v3.5M192.3,883.5v3.5
M258.3,309.5v3.5M318.3,309.5v3.5M258.3,453v3.5M318.3,453v3.5M258.3,596.5v3.5M318.3,596.5v3.5M258.3,740v3.5M318.3,740v3.5M258.3,883.5v3.5M318.3,883.5v3.5
M378.7,453v3.5M427,453v3.5M475.3,453v3.5M378.7,596.5v3.5M427,596.5v3.5M475.3,596.5v3.5M378.7,740v3.5M427,740v3.5M475.3,740v3.5M378.7,883.5v3.5M427,883.5v3.5M475.3,883.5v3.5
M522.2,596.5v3.5M570.7,596.5v3.5M619.2,596.5v3.5M522.2,740v3.5M570.7,740v3.5M619.2,740v3.5M522.2,883.5v3.5M570.7,883.5v3.5M619.2,883.5v3.5
M652.3,740v3.5M712.3,740v3.5M772.3,740v3.5M652.3,883.5v3.5M712.3,883.5v3.5M772.3,883.5v3.5
M825,883.5v3.5M878.3,883.5v3.5
M72,207.7h-3.5M72,267.7h-3.5
M72,337h-3.5M72,385h-3.5M72,433h-3.5M215.5,337h-3.5M215.5,385h-3.5M215.5,433h-3.5
M72,480.5h-3.5M72,528.5h-3.5M72,576.5h-3.5M215.5,480.5h-3.5M215.5,528.5h-3.5M215.5,576.5h-3.5M359,480.5h-3.5M359,528.5h-3.5M359,576.5h-3.5
M72,614.7h-3.5M72,674.7h-3.5M72,734.7h-3.5M215.5,614.7h-3.5M215.5,674.7h-3.5M215.5,734.7h-3.5M359,614.7h-3.5M359,674.7h-3.5M359,734.7h-3.5M502.5,614.7h-3.5M502.5,674.7h-3.5M502.5,734.7h-3.5
M72,747.5h-3.5M72,793.3h-3.5M72,839.3h-3.5M215.5,747.5h-3.5M215.5,793.3h-3.5M215.5,839.3h-3.5M359,747.5h-3.5M359,793.3h-3.5M359,839.3h-3.5M502.5,747.5h-3.5M502.5,793.3h-3.5M502.5,839.3h-3.5M646,747.5h-3.5M646,793.3h-3.5M646,839.3h-3.5"/>

<!-- x tick labels -->
<g id="xticks">
<text class="tl" x="85.7" y="904" transform="rotate(-45 85.7 904)">1.639</text>
<text class="tl" x="139" y="904" transform="rotate(-45 139 904)">1.642</text>
<text class="tl" x="192.3" y="904" transform="rotate(-45 192.3 904)">1.645</text>
<text class="tl" x="258.3" y="899.5" transform="rotate(-45 258.3 899.5)">0.4</text>
<text class="tl" x="318.3" y="899.5" transform="rotate(-45 318.3 899.5)">0.8</text>
<text class="tl" x="378.7" y="902.4" transform="rotate(-45 378.7 902.4)">−0.3</text>
<text class="tl" x="427" y="899.5" transform="rotate(-45 427 899.5)">0.0</text>
<text class="tl" x="475.3" y="899.5" transform="rotate(-45 475.3 899.5)">0.3</text>
<text class="tl" x="522.2" y="902.4" transform="rotate(-45 522.2 902.4)">−0.3</text>
<text class="tl" x="570.7" y="899.5" transform="rotate(-45 570.7 899.5)">0.0</text>
<text class="tl" x="619.2" y="899.5" transform="rotate(-45 619.2 899.5)">0.3</text>
<text class="tl" x="652.3" y="899.5" transform="rotate(-45 652.3 899.5)">0.0</text>
<text class="tl" x="712.3" y="899.5" transform="rotate(-45 712.3 899.5)">1.5</text>
<text class="tl" x="772.3" y="899.5" transform="rotate(-45 772.3 899.5)">3.0</text>
<text class="tl" x="825" y="899" transform="rotate(-45 825 899)">−3</text>
<text class="tl" x="878.3" y="896" transform="rotate(-45 878.3 896)">0</text>
<text x="899" y="917" font-family="'DejaVu Sans',sans-serif" font-size="10" fill="#222">1e−3</text>
</g>
<!-- y tick labels -->
<g id="yticks">
<text class="tl" x="52.5" y="271.7" transform="rotate(-45 52.5 271.7)">0.4</text>
<text class="tl" x="52.5" y="211.7" transform="rotate(-45 52.5 211.7)">0.8</text>
<text class="tl" x="52.5" y="341" transform="rotate(-45 52.5 341)">0.3</text>
<text class="tl" x="52.5" y="389" transform="rotate(-45 52.5 389)">0.0</text>
<text class="tl" x="50.5" y="439.5" transform="rotate(-45 50.5 439.5)">−0.3</text>
<text class="tl" x="52.5" y="484.5" transform="rotate(-45 52.5 484.5)">0.3</text>
<text class="tl" x="52.5" y="532.5" transform="rotate(-45 52.5 532.5)">0.0</text>
<text class="tl" x="50.5" y="583" transform="rotate(-45 50.5 583)">−0.3</text>
<text class="tl" x="52.5" y="618.7" transform="rotate(-45 52.5 618.7)">3.0</text>
<text class="tl" x="52.5" y="678.7" transform="rotate(-45 52.5 678.7)">1.5</text>
<text class="tl" x="52.5" y="738.7" transform="rotate(-45 52.5 738.7)">0.0</text>
<text class="tl" x="52.5" y="751.5" transform="rotate(-45 52.5 751.5)">2.5</text>
<text class="tl" x="52.5" y="797.3" transform="rotate(-45 52.5 797.3)">0.0</text>
<text class="tl" x="50.5" y="845.8" transform="rotate(-45 50.5 845.8)">−2.5</text>
<text x="73" y="744.5" font-family="'DejaVu Sans',sans-serif" font-size="10" fill="#222">1e−3</text>
</g>

<!-- axis labels -->
<g id="xlabels">
<text class="lab" x="140.5" y="938">ℳ[<tspan font-style="italic">M</tspan><tspan font-size="14.7" dy="4">⊙</tspan><tspan dy="-4">]</tspan></text>
<text class="lab" x="284" y="938" font-style="italic">q</text>
<text class="lab" x="427.5" y="938"><tspan font-style="italic">χ</tspan><tspan font-size="14.7" dy="4">1</tspan></text>
<text class="lab" x="571" y="938"><tspan font-style="italic">χ</tspan><tspan font-size="14.7" dy="4">2</tspan></text>
<text class="lab" x="714.5" y="938"><tspan font-style="italic">ϕ</tspan><tspan font-size="14.7" font-style="italic" dy="4">c</tspan></text>
<text class="lab" x="858" y="938"><tspan font-style="italic">t</tspan><tspan font-size="14.7" font-style="italic" dy="4">c</tspan><tspan dy="-4">[</tspan><tspan font-style="italic">s</tspan>]</text>
</g>
<g id="ylabels">
<text class="lab" transform="translate(28,241.5) rotate(-90)" font-style="italic">q</text>
<text class="lab" transform="translate(28,385) rotate(-90)"><tspan font-style="italic">χ</tspan><tspan font-size="14.7" dy="4">1</tspan></text>
<text class="lab" transform="translate(28,528.5) rotate(-90)"><tspan font-style="italic">χ</tspan><tspan font-size="14.7" dy="4">2</tspan></text>
<text class="lab" transform="translate(28,672) rotate(-90)"><tspan font-style="italic">ϕ</tspan><tspan font-size="14.7" font-style="italic" dy="4">c</tspan></text>
<text class="lab" transform="translate(28,815.5) rotate(-90)"><tspan font-style="italic">t</tspan><tspan font-size="14.7" font-style="italic" dy="4">c</tspan><tspan dy="-4">[</tspan><tspan font-style="italic">s</tspan>]</text>
</g>

<!-- legend -->
<g id="legend">
<rect x="678.5" y="42.5" width="235" height="92" rx="4" fill="#fff" stroke="#cccccc" stroke-width="1"/>
<line x1="694" y1="66" x2="711" y2="66" stroke="#1f77b4" stroke-width="4"/>
<line x1="694" y1="108" x2="711" y2="108" stroke="#ff7f0e" stroke-width="4"/>
<text class="lg" x="737" y="77">(<tspan font-style="italic">μ</tspan><tspan font-size="16.5" dy="3.8">1</tspan><tspan dy="-3.8">, </tspan><tspan font-style="italic">μ</tspan><tspan font-size="16.5" dy="3.8">2</tspan><tspan dy="-3.8">, </tspan><tspan font-style="italic">q</tspan>, <tspan font-style="italic">χ</tspan><tspan font-size="16.5" dy="3.8">2</tspan><tspan dy="-3.8">)</tspan></text>
<text class="lg" x="737" y="118">(ℳ, <tspan font-style="italic">q</tspan>, <tspan font-style="italic">χ</tspan><tspan font-size="16.5" dy="3.8">1</tspan><tspan dy="-3.8">, </tspan><tspan font-style="italic">χ</tspan><tspan font-size="16.5" dy="3.8">2</tspan><tspan dy="-3.8">)</tspan></text>
</g>
</svg>
